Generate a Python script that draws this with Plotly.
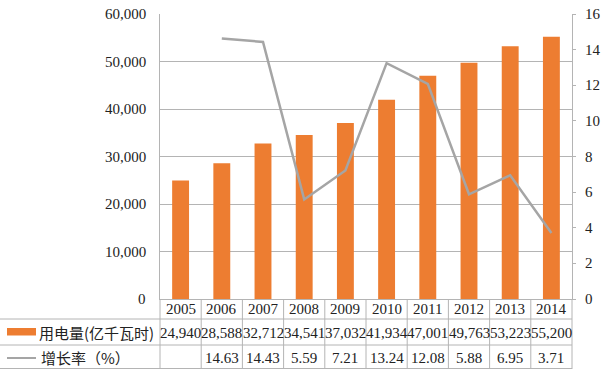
import plotly.graph_objects as go

years = ["2005", "2006", "2007", "2008", "2009", "2010", "2011", "2012", "2013", "2014"]
usage = [24940, 28588, 32712, 34541, 37032, 41934, 47001, 49763, 53223, 55200]
growth_years = ["2006", "2007", "2008", "2009", "2010", "2011", "2012", "2013", "2014"]
growth = [14.63, 14.43, 5.59, 7.21, 13.24, 12.08, 5.88, 6.95, 3.71]
left_ticks = [0, 10000, 20000, 30000, 40000, 50000, 60000]
right_ticks = [0, 2, 4, 6, 8, 10, 12, 14, 16]
usage_label = "用电量(亿千瓦时)"
growth_label = "增长率（%）"

W, H = 603, 369
L, R, T, B = 160, 31, 14, 70
PW, PH = W - L - R, H - T - B

def px(xp):
    return (xp - L) / PW

def py(yp):
    return (T + PH - yp) / PH

SERIF = "Liberation Serif, Times New Roman, serif"
CJK = "Noto Sans CJK SC"
GRID = "#b4b4b4"
ORANGE = "#ED7D31"
GRAY = "#A5A5A5"
TXT = "#222222"

fig = go.Figure()
fig.add_trace(go.Bar(x=years, y=usage, marker_color=ORANGE, name=usage_label,
                     showlegend=False, hoverinfo="skip"))
fig.add_trace(go.Scatter(x=growth_years, y=growth, yaxis="y2", mode="lines",
                         line=dict(color=GRAY, width=2.5), name=growth_label,
                         showlegend=False, hoverinfo="skip"))

shapes = []
for yp in [319, 345, 368.5]:
    shapes.append(dict(type="line", xref="paper", yref="paper",
                       x0=px(0), x1=1, y0=py(yp), y1=py(yp),
                       line=dict(color=GRID, width=1)))
for i in range(len(years) + 1):
    shapes.append(dict(type="line", xref="paper", yref="paper",
                       x0=i / len(years), x1=i / len(years), y0=0, y1=py(369),
                       line=dict(color=GRID, width=1)))
shapes.append(dict(type="rect", xref="paper", yref="paper",
                   x0=px(7), x1=px(36), y0=py(335.5), y1=py(328),
                   fillcolor=ORANGE, line=dict(width=0)))
shapes.append(dict(type="line", xref="paper", yref="paper",
                   x0=px(7), x1=px(36), y0=py(358), y1=py(358),
                   line=dict(color=GRAY, width=2)))

def txt(x, xref, y, yref, text, xanchor="center", family=SERIF):
    return dict(x=x, xref=xref, y=y, yref=yref, text=text, showarrow=False,
                font=dict(family=family, size=15, color=TXT),
                xanchor=xanchor, yanchor="middle")

annotations = []
for i, yr in enumerate(years):
    annotations.append(txt(i, "x", py(309.5), "paper", yr))
for i, v in enumerate(usage):
    annotations.append(txt(i, "x", py(332.5), "paper", f"{v:,}"))
for yr, v in zip(growth_years, growth):
    annotations.append(txt(years.index(yr), "x", py(357.5), "paper", f"{v:.2f}"))
for v in left_ticks:
    annotations.append(txt(px(148), "paper", v, "y", f"{v:,}", xanchor="right"))
for v in right_ticks:
    annotations.append(txt(px(583), "paper", v, "y2", f"{v}", xanchor="left"))
annotations.append(txt(px(37), "paper", py(332), "paper", usage_label,
                       xanchor="left", family=CJK))
annotations.append(txt(px(39), "paper", py(357), "paper", growth_label,
                       xanchor="left", family=CJK))

fig.update_layout(
    template="none",
    width=W, height=H,
    margin=dict(l=L, r=R, t=T, b=B, pad=0),
    paper_bgcolor="white", plot_bgcolor="white",
    font=dict(family=SERIF, size=15, color=TXT),
    bargap=0.59,
    hovermode=False,
    xaxis=dict(type="category", showticklabels=False, ticks="", showgrid=False,
               showline=True, linecolor=GRID, linewidth=1, range=[-0.5, 9.5],
               automargin=False, zeroline=False),
    yaxis=dict(range=[0, 60000], tickvals=left_ticks, showticklabels=False,
               showgrid=True, gridcolor=GRID, gridwidth=1, showline=True,
               linecolor=GRID, ticks="", zeroline=False, automargin=False),
    yaxis2=dict(range=[0, 16], tickvals=right_ticks, overlaying="y", side="right",
                showgrid=False, showline=True, linecolor=GRID, ticks="outside",
                ticklen=3, tickcolor=GRID, showticklabels=False, zeroline=False,
                automargin=False),
    shapes=shapes, annotations=annotations,
)

fig.write_html("out.html", config={"displayModeBar": False, "staticPlot": True},
               post_script="document.body.style.margin='0';")
